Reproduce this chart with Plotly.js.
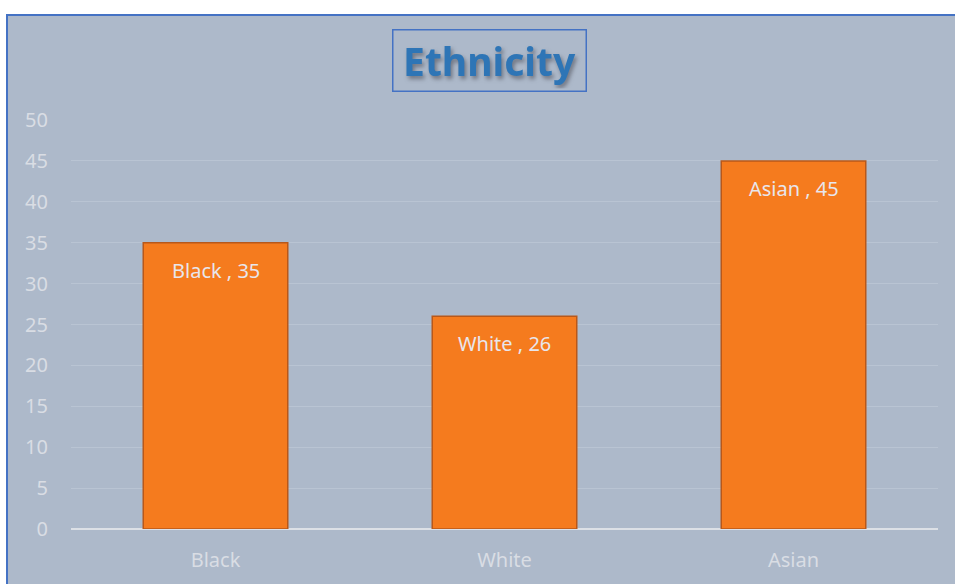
<!DOCTYPE html>
<html>
<head>
<meta charset="utf-8">
<script src="https://cdn.plot.ly/plotly-3.0.1.min.js"></script>
<style>
  html, body { margin: 0; padding: 0; background: #ffffff; width: 955px; height: 584px; overflow: hidden; }
  #frame { position: absolute; left: 6px; top: 14px; width: 960px; height: 590px;
           background: #ADB9CA; border-left: 2px solid #4472C4; border-top: 2px solid #4472C4; box-sizing: border-box; }
  #chart { position: absolute; left: 0; top: 0; width: 955px; height: 584px; }
</style>
</head>
<body>
<div id="frame"></div>
<div id="chart"></div>
<script>
const categories = ["Black", "White", "Asian"];
const values = [35, 26, 45];
const yTicks = [0, 5, 10, 15, 20, 25, 30, 35, 40, 45, 50];
const chartTitle = "Ethnicity";

const labels = categories.map((c, i) => c + " , " + values[i]);

const trace = {
  type: "bar",
  x: categories,
  y: values,
  marker: { color: "#F57B1E", line: { color: "#B8581A", width: 1.5 } },
  hoverinfo: "none"
};

const barLabels = categories.map((c, i) => ({
  text: labels[i],
  x: c, y: values[i],
  xref: "x", yref: "y",
  xanchor: "center", yanchor: "top",
  yshift: -12,
  showarrow: false,
  font: { family: "Noto Sans, sans-serif", size: 20, color: "#E8E6EC" }
}));

const layout = {
  width: 955,
  height: 584,
  margin: { l: 71, r: 17, t: 120, b: 55, pad: 0 },
  paper_bgcolor: "rgba(0,0,0,0)",
  plot_bgcolor: "rgba(0,0,0,0)",
  bargap: 0.5,
  showlegend: false,
  font: { family: "Noto Sans, sans-serif", color: "#D9DDE4" },
  xaxis: {
    type: "category",
    tickfont: { size: 20, color: "#D9DDE4" },
    showgrid: false,
    showline: false,
    ticks: "",
    ticklabelstandoff: 17
  },
  yaxis: {
    range: [0, 50],
    tickvals: yTicks,
    ticktext: yTicks.map(String),
    tickfont: { size: 20, color: "#D9DDE4" },
    showgrid: true,
    gridcolor: "#B9C4D3",
    gridwidth: 1,
    zeroline: true,
    zerolinecolor: "#DCE0E6",
    zerolinewidth: 2.5,
    ticks: "",
    ticklabelstandoff: 22,
    showline: false
  },
  annotations: [
    {
      text: "<b>" + chartTitle + "</b>",
      xref: "paper", yref: "paper",
      x: 0.4825, y: 1.145,
      xanchor: "center", yanchor: "middle",
      width: 188, height: 56,
      showarrow: false,
      font: { family: "Noto Sans, sans-serif", size: 39, color: "#2E75B6" },
      bordercolor: "#4472C4",
      borderwidth: 1.5,
      borderpad: 2
    }
  ].concat(barLabels)
};

Plotly.newPlot("chart", [trace], layout, { displayModeBar: false, staticPlot: true }).then(() => {
  const t = document.querySelector(".annotation[data-index='0'] .annotation-text");
  if (t) t.style.filter = "drop-shadow(2px 3px 2px rgba(60,60,70,0.55))";
});
</script>
</body>
</html>
